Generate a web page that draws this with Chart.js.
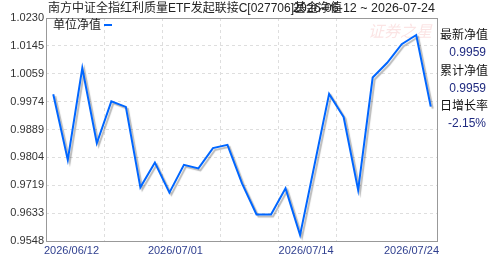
<!DOCTYPE html>
<html>
<head>
<meta charset="utf-8">
<script src="https://cdn.jsdelivr.net/npm/chart.js@4.4.1/dist/chart.umd.min.js"></script>
<style>
  html, body { margin: 0; padding: 0; background: #fff; }
</style>
</head>
<body>
<canvas id="nav" width="488" height="255"></canvas>
<script>
// values
const navValues = [0.9997, 0.9796, 1.0077, 0.9847, 0.9975, 0.9958, 0.9712, 0.9788, 0.9696, 0.9781,
  0.9770, 0.9832, 0.9842, 0.9724, 0.9629, 0.9629, 0.9709, 0.9566, 0.9782, 0.9998,
  0.9927, 0.9704, 1.0048, 1.0093, 1.0150, 1.0178, 0.9959];
const yTicks = [0.9548, 0.9633, 0.9719, 0.9804, 0.9889, 0.9974, 1.0059, 1.0145, 1.0230];
const xTickIndex = [0, 8, 17, 26];
const xTickLabels = ['2026/06/12', '2026/07/01', '2026/07/14', '2026/07/24'];
const infoNames = ['最新净值', '累计净值', '日增长率'];
const infoValues = ['0.9959', '0.9959', '-2.15%'];
const seriesName = '单位净值';
const titleText = '南方中证全指红利质量ETF发起联接C[027706]基金净值';
const rangeText = '2026-06-12 ~ 2026-07-24';

const FONT = '"Liberation Sans", "Noto Sans CJK SC", sans-serif';
const categories = navValues.map((v, i) => i);

// title, legend, watermark, x labels, info panel and frame
const decor = {
  id: 'decor',
  beforeDatasetsDraw(chart) {
    const ctx = chart.ctx;
    const area = chart.chartArea;
    ctx.save();
    ctx.fillStyle = 'rgba(235, 120, 120, 0.2)';
    ctx.font = 'italic 16px "Noto Sans CJK SC", sans-serif';
    ctx.textAlign = 'right';
    ctx.textBaseline = 'middle';
    ctx.fillText('证券之星', area.right - 6, area.top + 13);
    ctx.restore();

    // shadow under the line
    ctx.save();
    ctx.shadowColor = 'rgba(0, 0, 0, 0.28)';
    ctx.shadowOffsetX = 2;
    ctx.shadowOffsetY = 2;
    ctx.shadowBlur = 1;
  },
  afterDatasetsDraw(chart) {
    chart.ctx.restore();
  },
  afterDraw(chart) {
    const ctx = chart.ctx;
    const area = chart.chartArea;
    const xs = chart.scales.x;
    ctx.save();

    // frame
    ctx.strokeStyle = '#999';
    ctx.lineWidth = 1;
    ctx.strokeRect(area.left + 0.5, area.top + 0.5, area.right - area.left - 1, area.bottom - area.top);

    // title (two texts overlapping, as in the original)
    ctx.fillStyle = '#222';
    ctx.font = '12px ' + FONT;
    ctx.textBaseline = 'middle';
    ctx.textAlign = 'left';
    ctx.fillText(titleText, 48, 8.5);
    ctx.font = '12.5px ' + FONT;
    ctx.textAlign = 'right';
    ctx.fillText(rangeText, 435, 8.5);

    // legend
    ctx.font = '12px ' + FONT;
    ctx.textAlign = 'left';
    ctx.fillStyle = '#222';
    ctx.fillText(seriesName, area.left + 7, area.top + 8);
    ctx.fillStyle = chart.data.datasets[0].borderColor;
    ctx.fillRect(area.left + 58, area.top + 6, 8, 2);

    // x labels
    ctx.font = '11px ' + FONT;
    ctx.fillStyle = '#2f3f8f';
    xTickIndex.forEach((idx, i) => {
      let x = xs.getPixelForValue(idx);
      if (i === 0) {
        ctx.textAlign = 'left';
        x = area.left - 2;
      } else if (i === xTickIndex.length - 1) {
        ctx.textAlign = 'right';
        x = area.right + 1;
      } else {
        ctx.textAlign = 'center';
        x += 6;
      }
      ctx.fillText(xTickLabels[i], x, area.bottom + 10);
    });

    // info panel on the right
    infoNames.forEach((name, i) => {
      const y = 35.5 + i * 35.8;
      ctx.font = '12px ' + FONT;
      ctx.textAlign = 'left';
      ctx.fillStyle = '#111';
      ctx.fillText(name, area.right + 2, y);
      ctx.textAlign = 'right';
      ctx.fillStyle = '#1f2a80';
      ctx.fillText(infoValues[i], 486, y + 17);
    });
    ctx.restore();
  }
};

const ctx = document.getElementById('nav').getContext('2d');
const chart = new Chart(ctx, {
  type: 'line',
  data: {
    labels: categories,
    datasets: [{
      label: seriesName,
      data: navValues,
      borderColor: 'rgb(0, 102, 255)',
      borderWidth: 2,
      pointRadius: 0,
      tension: 0,
      fill: false
    }]
  },
  options: {
    responsive: false,
    animation: false,
    devicePixelRatio: 1,
    layout: { padding: { left: 0, right: 50, top: 18, bottom: 14 } },
    plugins: {
      legend: { display: false },
      tooltip: { enabled: false }
    },
    scales: {
      x: {
        type: 'category',
        offset: true,
        grid: {
          offset: true,
          drawTicks: false,
          color: c => (c.index % 4 === 0 && c.index > 0 && c.index <= 20) ? '#dedede' : 'rgba(0,0,0,0)'
        },
        border: { display: false, dash: [3, 3] },
        ticks: { display: false, autoSkip: false }
      },
      y: {
        min: 0.9548,
        max: 1.0230,
        afterBuildTicks: s => { s.ticks = yTicks.map(v => ({ value: v })); },
        afterFit: s => { s.width = 46; },
        grid: {
          drawTicks: false,
          color: c => (c.index > 0 && c.index < yTicks.length - 1) ? '#dedede' : 'rgba(0,0,0,0)'
        },
        border: { display: false, dash: [3, 3] },
        ticks: {
          padding: 2,
          color: '#333',
          font: { family: FONT, size: 11 },
          callback: v => Number(v).toFixed(4)
        }
      }
    }
  },
  plugins: [decor]
});
</script>
</body>
</html>
